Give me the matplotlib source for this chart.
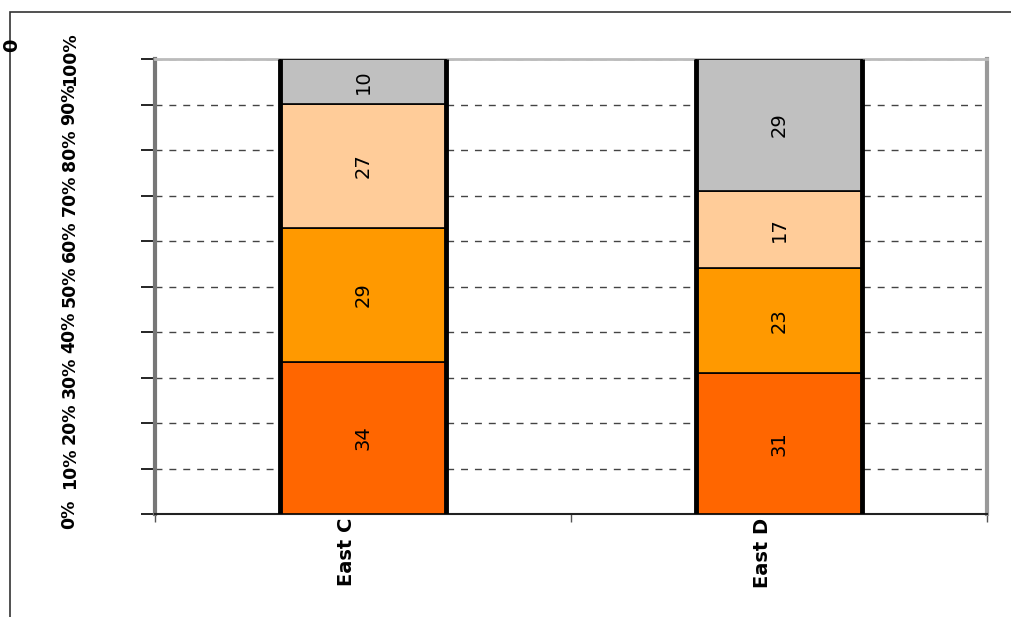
import matplotlib
matplotlib.use("Agg")
import matplotlib.pyplot as plt
from matplotlib.patches import Rectangle
import numpy as np

categories = ["East C", "East D"]
seg1 = [33.5, 31.0]
seg2 = [29.3, 23.0]
seg3 = [27.4, 17.0]
seg4 = [9.8, 29.0]
colors = ["#FF6600", "#FF9900", "#FFCC99", "#C0C0C0"]
ytick_vals = list(range(0, 101, 10))
ytick_labels = [f"{v}%" for v in ytick_vals]

W, H = 1012, 617
fig = plt.figure(figsize=(W / 100, H / 100), dpi=100)
fig.patch.set_facecolor("white")

# outer chart frame (top and left lines)
fig.add_artist(Rectangle((10 / W, -0.5), 2.0, 1 - 12 / H + 0.5,
                         transform=fig.transFigure, fill=False,
                         edgecolor="#333333", linewidth=1.2))

ax = fig.add_axes([155 / W, 1 - 514 / H, (987 - 155) / W, (514 - 59) / H])
x = np.arange(len(categories))
bottom = np.zeros(len(categories))
for vals, col in zip([seg1, seg2, seg3, seg4], colors):
    bars = ax.bar(x, vals, width=0.40, bottom=bottom, color=col,
                  edgecolor="black", linewidth=1.2, zorder=3)
    ax.bar_label(bars, labels=[f"{v:.0f}" for v in vals], label_type="center",
                 rotation=90, fontsize=14, color="black", zorder=4)
    bottom += np.array(vals)

# thick black bar sides
for xi in x:
    ax.vlines([xi - 0.2, xi + 0.2], 0, 100, colors="black", linewidth=3.5, zorder=5)

ax.set_xlim(-0.5, 1.5)
ax.set_ylim(0, 100)
ax.set_yticks(ytick_vals)
ax.set_yticklabels(ytick_labels, rotation=90, va="center", fontsize=12.5,
                   fontweight="bold")
ax.tick_params(axis="y", length=10, width=1.2, color="black", pad=45,
               direction="out")
ax.set_xticks([-0.5, 0.5, 1.5], minor=False)
ax.set_xticklabels(["", "", ""])
ax.tick_params(axis="x", length=6, width=1, color="#555555")
for xi, lab in zip(x, categories):
    ax.text(xi - 0.04, -0.8, lab, rotation=90, ha="center", va="top",
            fontsize=14, fontweight="bold",
            transform=ax.transData)

ax.yaxis.grid(True, linestyle=(0, (5, 5)), color="#444444", linewidth=1, zorder=0)
ax.set_axisbelow(True)
ax.spines["left"].set_color("#777777")
ax.spines["left"].set_linewidth(3)
ax.spines["right"].set_color("#999999")
ax.spines["right"].set_linewidth(3)
ax.spines["top"].set_color("#BBBBBB")
ax.spines["top"].set_linewidth(2)
ax.spines["bottom"].set_color("#222222")
ax.spines["bottom"].set_linewidth(1.5)

fig.text(12 / W, 1 - 45 / H, "0", rotation=90, ha="center", va="center",
         fontsize=14, fontweight="bold")

fig.savefig("out.png", dpi=100)
